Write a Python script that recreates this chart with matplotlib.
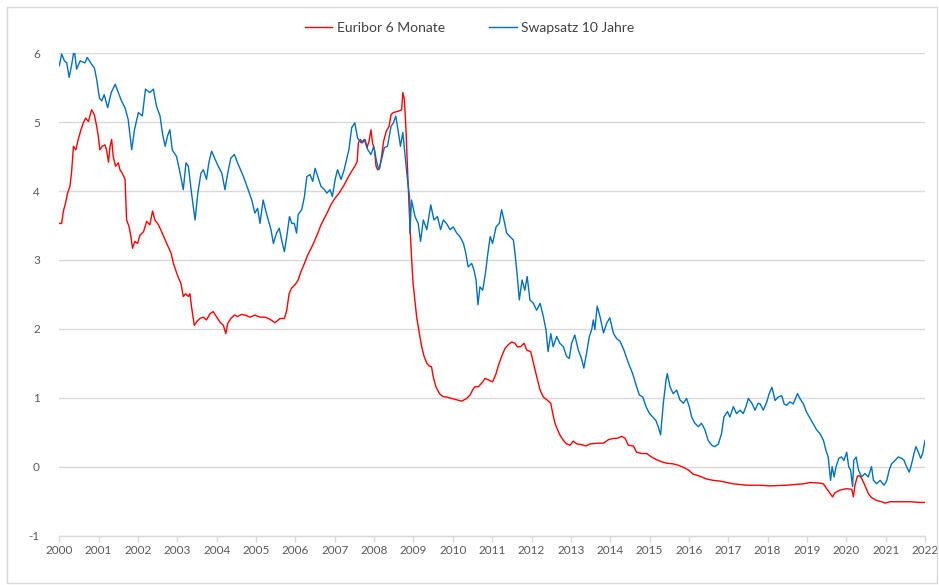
import matplotlib
matplotlib.use('Agg')
import matplotlib.pyplot as plt
from matplotlib.patches import Rectangle

# Euribor 6 Monate (Jahr als Dezimalzahl, Zinssatz in %)
euribor_x = [2000.00, 2000.06, 2000.10, 2000.16, 2000.21, 2000.27, 2000.31, 2000.36, 2000.42, 2000.48,
             2000.55, 2000.61, 2000.67, 2000.74, 2000.82, 2000.89, 2000.95, 2000.99, 2001.03, 2001.09,
             2001.16, 2001.20, 2001.25, 2001.29, 2001.33, 2001.37, 2001.43, 2001.50, 2001.54, 2001.60,
             2001.67, 2001.71, 2001.77, 2001.82, 2001.86, 2001.92, 2001.99, 2002.05, 2002.14, 2002.22,
             2002.30, 2002.37, 2002.43, 2002.52, 2002.60, 2002.69, 2002.77, 2002.84, 2002.90, 2002.96,
             2003.02, 2003.09, 2003.15, 2003.21, 2003.28, 2003.32, 2003.36, 2003.43, 2003.49, 2003.57,
             2003.66, 2003.74, 2003.83, 2003.91, 2004.00, 2004.08, 2004.17, 2004.23, 2004.28, 2004.36,
             2004.45, 2004.53, 2004.63, 2004.72, 2004.85, 2004.97, 2005.10, 2005.23, 2005.35, 2005.48,
             2005.61, 2005.72, 2005.78, 2005.84, 2005.90, 2005.99, 2006.07, 2006.14, 2006.23, 2006.31,
             2006.40, 2006.48, 2006.57, 2006.65, 2006.74, 2006.82, 2006.90, 2007.01, 2007.11, 2007.22,
             2007.33, 2007.41, 2007.51, 2007.57, 2007.60, 2007.65, 2007.70, 2007.77, 2007.82, 2007.87,
             2007.92, 2007.96, 2008.01, 2008.05, 2008.09, 2008.14, 2008.19, 2008.24, 2008.31, 2008.38,
             2008.43, 2008.49, 2008.62, 2008.70, 2008.73, 2008.77, 2008.81, 2008.85, 2008.90, 2008.95,
             2008.99, 2009.04, 2009.08, 2009.15, 2009.21, 2009.27, 2009.34, 2009.40, 2009.46, 2009.50,
             2009.57, 2009.66, 2009.74, 2009.84, 2009.97, 2010.10, 2010.23, 2010.35, 2010.44, 2010.50,
             2010.56, 2010.65, 2010.73, 2010.82, 2010.90, 2011.01, 2011.10, 2011.16, 2011.24, 2011.33,
             2011.41, 2011.50, 2011.58, 2011.64, 2011.72, 2011.81, 2011.88, 2011.98, 2012.05, 2012.13,
             2012.22, 2012.30, 2012.39, 2012.49, 2012.54, 2012.60, 2012.72, 2012.81, 2012.89, 2012.98,
             2013.06, 2013.15, 2013.27, 2013.38, 2013.49, 2013.66, 2013.83, 2013.95, 2014.08, 2014.18,
             2014.29, 2014.38, 2014.46, 2014.59, 2014.67, 2014.80, 2014.93, 2015.05, 2015.18, 2015.31,
             2015.43, 2015.60, 2015.73, 2015.86, 2015.99, 2016.11, 2016.28, 2016.45, 2016.62, 2016.79,
             2016.96, 2017.13, 2017.30, 2017.47, 2017.81, 2018.06, 2018.48, 2018.91, 2019.08, 2019.33,
             2019.42, 2019.50, 2019.59, 2019.65, 2019.71, 2019.84, 2020.01, 2020.14, 2020.18, 2020.22,
             2020.28, 2020.33, 2020.39, 2020.47, 2020.56, 2020.64, 2020.77, 2020.90, 2020.98, 2021.11,
             2021.36, 2021.62, 2021.87, 2022.00]
euribor_y = [3.53, 3.53, 3.70, 3.83, 3.97, 4.07, 4.26, 4.65, 4.60, 4.75,
             4.89, 4.99, 5.06, 5.01, 5.18, 5.11, 4.94, 4.80, 4.60, 4.65,
             4.67, 4.60, 4.42, 4.65, 4.75, 4.50, 4.36, 4.41, 4.31, 4.26,
             4.17, 3.58, 3.49, 3.34, 3.17, 3.27, 3.24, 3.36, 3.41, 3.56,
             3.51, 3.71, 3.58, 3.51, 3.41, 3.29, 3.19, 3.10, 2.95, 2.85,
             2.75, 2.66, 2.47, 2.51, 2.47, 2.51, 2.32, 2.05, 2.10, 2.15,
             2.17, 2.13, 2.22, 2.25, 2.17, 2.10, 2.05, 1.93, 2.08, 2.15,
             2.20, 2.18, 2.21, 2.20, 2.17, 2.20, 2.17, 2.17, 2.14, 2.09,
             2.15, 2.15, 2.27, 2.51, 2.59, 2.64, 2.71, 2.83, 2.95, 3.07,
             3.17, 3.27, 3.39, 3.51, 3.61, 3.70, 3.80, 3.90, 3.97, 4.07,
             4.19, 4.27, 4.36, 4.43, 4.70, 4.75, 4.70, 4.75, 4.63, 4.72,
             4.89, 4.70, 4.60, 4.36, 4.31, 4.33, 4.50, 4.72, 4.87, 4.94,
             5.11, 5.14, 5.16, 5.18, 5.43, 5.33, 4.89, 4.31, 3.63, 3.05,
             2.66, 2.40, 2.18, 1.93, 1.74, 1.60, 1.50, 1.46, 1.45, 1.31,
             1.16, 1.06, 1.02, 1.01, 0.99, 0.97, 0.95, 0.99, 1.04, 1.11,
             1.16, 1.16, 1.21, 1.28, 1.26, 1.23, 1.35, 1.47, 1.60, 1.72,
             1.77, 1.81, 1.79, 1.74, 1.74, 1.79, 1.69, 1.67, 1.50, 1.31,
             1.11, 1.01, 0.97, 0.92, 0.77, 0.62, 0.46, 0.38, 0.33, 0.31,
             0.37, 0.33, 0.32, 0.30, 0.33, 0.34, 0.34, 0.39, 0.41, 0.41,
             0.44, 0.41, 0.31, 0.30, 0.21, 0.19, 0.19, 0.14, 0.10, 0.07,
             0.05, 0.04, 0.02, -0.01, -0.05, -0.11, -0.14, -0.18, -0.20, -0.21,
             -0.23, -0.25, -0.26, -0.27, -0.27, -0.28, -0.27, -0.25, -0.23, -0.24,
             -0.25, -0.32, -0.39, -0.44, -0.38, -0.34, -0.32, -0.33, -0.44, -0.27,
             -0.14, -0.13, -0.17, -0.27, -0.39, -0.45, -0.49, -0.51, -0.53, -0.51,
             -0.51, -0.51, -0.52, -0.52]

# Swapsatz 10 Jahre
swap_x = [2000.00, 2000.06, 2000.13, 2000.19, 2000.25, 2000.31, 2000.38, 2000.44, 2000.53, 2000.65,
          2000.71, 2000.82, 2000.89, 2000.95, 2001.02, 2001.08, 2001.14, 2001.23, 2001.32, 2001.42,
          2001.50, 2001.58, 2001.67, 2001.75, 2001.84, 2001.91, 2002.01, 2002.11, 2002.19, 2002.30,
          2002.39, 2002.47, 2002.56, 2002.62, 2002.69, 2002.75, 2002.81, 2002.87, 2002.98, 2003.07,
          2003.15, 2003.22, 2003.28, 2003.36, 2003.45, 2003.52, 2003.60, 2003.66, 2003.74, 2003.80,
          2003.87, 2003.96, 2004.04, 2004.13, 2004.21, 2004.28, 2004.36, 2004.45, 2004.53, 2004.62,
          2004.68, 2004.80, 2004.89, 2004.97, 2005.04, 2005.10, 2005.18, 2005.24, 2005.31, 2005.38,
          2005.44, 2005.52, 2005.59, 2005.65, 2005.72, 2005.78, 2005.85, 2005.91, 2005.97, 2006.03,
          2006.07, 2006.16, 2006.23, 2006.29, 2006.37, 2006.44, 2006.50, 2006.57, 2006.65, 2006.74,
          2006.80, 2006.88, 2006.94, 2007.01, 2007.07, 2007.16, 2007.24, 2007.30, 2007.36, 2007.43,
          2007.51, 2007.58, 2007.67, 2007.75, 2007.84, 2007.92, 2007.99, 2008.07, 2008.12, 2008.19,
          2008.26, 2008.34, 2008.43, 2008.49, 2008.55, 2008.62, 2008.67, 2008.73, 2008.79, 2008.84,
          2008.90, 2008.91, 2008.95, 2009.04, 2009.12, 2009.18, 2009.25, 2009.34, 2009.44, 2009.52,
          2009.61, 2009.69, 2009.76, 2009.84, 2009.93, 2010.01, 2010.10, 2010.18, 2010.27, 2010.33,
          2010.39, 2010.48, 2010.54, 2010.59, 2010.64, 2010.69, 2010.76, 2010.83, 2010.88, 2010.95,
          2011.01, 2011.10, 2011.18, 2011.24, 2011.30, 2011.37, 2011.45, 2011.54, 2011.58, 2011.64,
          2011.69, 2011.76, 2011.83, 2011.89, 2011.96, 2012.05, 2012.13, 2012.22, 2012.30, 2012.37,
          2012.42, 2012.49, 2012.55, 2012.64, 2012.72, 2012.81, 2012.89, 2012.96, 2013.02, 2013.10,
          2013.19, 2013.27, 2013.33, 2013.40, 2013.47, 2013.53, 2013.57, 2013.61, 2013.67, 2013.74,
          2013.83, 2013.91, 2013.99, 2014.08, 2014.16, 2014.25, 2014.35, 2014.42, 2014.50, 2014.57,
          2014.66, 2014.74, 2014.83, 2014.91, 2015.00, 2015.08, 2015.16, 2015.22, 2015.28, 2015.35,
          2015.42, 2015.45, 2015.52, 2015.60, 2015.69, 2015.77, 2015.86, 2015.94, 2016.01, 2016.07,
          2016.15, 2016.24, 2016.32, 2016.41, 2016.49, 2016.58, 2016.66, 2016.75, 2016.83, 2016.89,
          2016.98, 2017.04, 2017.13, 2017.21, 2017.30, 2017.38, 2017.45, 2017.51, 2017.60, 2017.68,
          2017.76, 2017.81, 2017.89, 2017.98, 2018.04, 2018.11, 2018.19, 2018.27, 2018.36, 2018.42,
          2018.48, 2018.57, 2018.65, 2018.76, 2018.82, 2018.91, 2018.99, 2019.08, 2019.16, 2019.25,
          2019.33, 2019.42, 2019.48, 2019.54, 2019.60, 2019.64, 2019.69, 2019.74, 2019.81, 2019.88,
          2019.94, 2020.01, 2020.06, 2020.11, 2020.16, 2020.19, 2020.25, 2020.31, 2020.39, 2020.47,
          2020.56, 2020.64, 2020.69, 2020.77, 2020.86, 2020.96, 2021.03, 2021.09, 2021.15, 2021.24,
          2021.32, 2021.41, 2021.47, 2021.53, 2021.60, 2021.66, 2021.72, 2021.77, 2021.83, 2021.89,
          2021.94, 2022.00]
swap_y = [5.82, 5.99, 5.89, 5.86, 5.65, 5.82, 6.06, 5.77, 5.89, 5.86,
          5.94, 5.84, 5.79, 5.62, 5.35, 5.31, 5.40, 5.21, 5.43, 5.55,
          5.43, 5.31, 5.21, 5.04, 4.60, 4.89, 5.14, 5.09, 5.48, 5.43,
          5.48, 5.23, 5.09, 4.84, 4.65, 4.80, 4.89, 4.60, 4.50, 4.26,
          4.02, 4.41, 4.36, 3.97, 3.58, 3.97, 4.26, 4.31, 4.17, 4.41,
          4.58, 4.46, 4.36, 4.26, 4.02, 4.26, 4.48, 4.53, 4.41, 4.29,
          4.21, 4.02, 3.87, 3.68, 3.75, 3.53, 3.87, 3.73, 3.58, 3.44,
          3.24, 3.39, 3.46, 3.29, 3.12, 3.34, 3.63, 3.53, 3.53, 3.39,
          3.66, 3.73, 3.92, 4.21, 4.24, 4.14, 4.33, 4.21, 4.07, 4.02,
          3.97, 4.02, 3.92, 4.17, 4.31, 4.17, 4.31, 4.46, 4.60, 4.92,
          4.99, 4.77, 4.70, 4.75, 4.60, 4.53, 4.65, 4.41, 4.31, 4.46,
          4.63, 4.65, 4.94, 4.99, 5.09, 4.84, 4.65, 4.85, 4.50, 4.21,
          3.92, 3.39, 3.87, 3.63, 3.53, 3.27, 3.58, 3.44, 3.80, 3.58,
          3.63, 3.44, 3.58, 3.53, 3.44, 3.48, 3.39, 3.34, 3.24, 3.10,
          2.90, 2.95, 2.85, 2.71, 2.35, 2.61, 2.56, 2.81, 3.05, 3.34,
          3.24, 3.48, 3.53, 3.73, 3.58, 3.39, 3.34, 3.29, 3.10, 2.76,
          2.42, 2.71, 2.56, 2.76, 2.42, 2.37, 2.27, 2.37, 2.18, 1.98,
          1.67, 1.93, 1.74, 1.89, 1.79, 1.74, 1.60, 1.57, 1.79, 1.91,
          1.69, 1.57, 1.43, 1.65, 1.89, 1.99, 2.13, 1.99, 2.33, 2.18,
          1.94, 2.08, 2.16, 1.94, 1.86, 1.82, 1.69, 1.57, 1.45, 1.35,
          1.18, 1.04, 1.01, 0.87, 0.77, 0.72, 0.67, 0.58, 0.46, 0.92,
          1.26, 1.35, 1.16, 1.06, 1.11, 0.97, 0.92, 0.99, 0.87, 0.72,
          0.63, 0.58, 0.63, 0.53, 0.38, 0.31, 0.29, 0.33, 0.48, 0.72,
          0.80, 0.72, 0.87, 0.77, 0.82, 0.77, 0.87, 0.99, 0.92, 0.82,
          0.92, 0.91, 0.82, 0.94, 1.06, 1.15, 0.96, 1.01, 1.03, 0.91,
          0.89, 0.94, 0.91, 1.06, 0.99, 0.91, 0.79, 0.70, 0.62, 0.53,
          0.48, 0.38, 0.24, 0.14, -0.20, 0.00, -0.15, 0.00, 0.12, 0.14,
          0.09, 0.21, 0.00, -0.05, -0.29, 0.09, 0.14, -0.05, -0.15, -0.10,
          -0.15, 0.00, -0.20, -0.25, -0.20, -0.27, -0.20, -0.05, 0.04, 0.09,
          0.14, 0.12, 0.09, 0.00, -0.08, 0.04, 0.19, 0.29, 0.21, 0.12,
          0.19, 0.38]

years = list(range(2000, 2023))
y_ticks = list(range(-1, 7))

plt.rcParams['font.family'] = ['Lato', 'DejaVu Sans']
plt.rcParams['axes.unicode_minus'] = False

W, H = 939, 585
fig = plt.figure(figsize=(W / 100, H / 100), dpi=100)
# heller Rahmen um das ganze Diagramm
fig.patches.append(Rectangle((7 / W, 2 / H), 930 / W, 576 / H, transform=fig.transFigure,
                             fill=False, edgecolor='#d9d9d9', linewidth=1.0))

ax = fig.add_axes([59.3 / W, 1 - 535.5 / H, (925 - 59.3) / W, (535.5 - 53.3) / H])

ax.plot(euribor_x, euribor_y, color='#ff0000', lw=1.0, label='Euribor 6 Monate', zorder=3)
ax.plot(swap_x, swap_y, color='#0070c0', lw=1.0, label='Swapsatz 10 Jahre', zorder=3)

ax.set_xlim(2000, 2022)
ax.set_ylim(-1, 6)
ax.set_xticks(years)
ax.set_xticklabels([str(y) for y in years])
ax.set_yticks(y_ticks)
ax.grid(axis='y', color='#d9d9d9', lw=1.0, zorder=0)
ax.set_axisbelow(True)

for s in ['left', 'right', 'top']:
    ax.spines[s].set_visible(False)
ax.spines['bottom'].set_color('#d9d9d9')
ax.spines['bottom'].set_linewidth(1.0)

ax.tick_params(axis='x', colors='#595959', labelsize=8.5, length=4, width=1.0, pad=3,
               color='#d9d9d9')
ax.tick_params(axis='y', colors='#595959', labelsize=8.5, length=0, pad=14)

fig.legend(loc='center', bbox_to_anchor=(0.5, 1 - 28 / H), ncol=2, frameon=False,
           fontsize=10, handlelength=2.0, handletextpad=0.3, columnspacing=3.2,
           labelcolor='#404040')

fig.savefig('out.png', dpi=100)
